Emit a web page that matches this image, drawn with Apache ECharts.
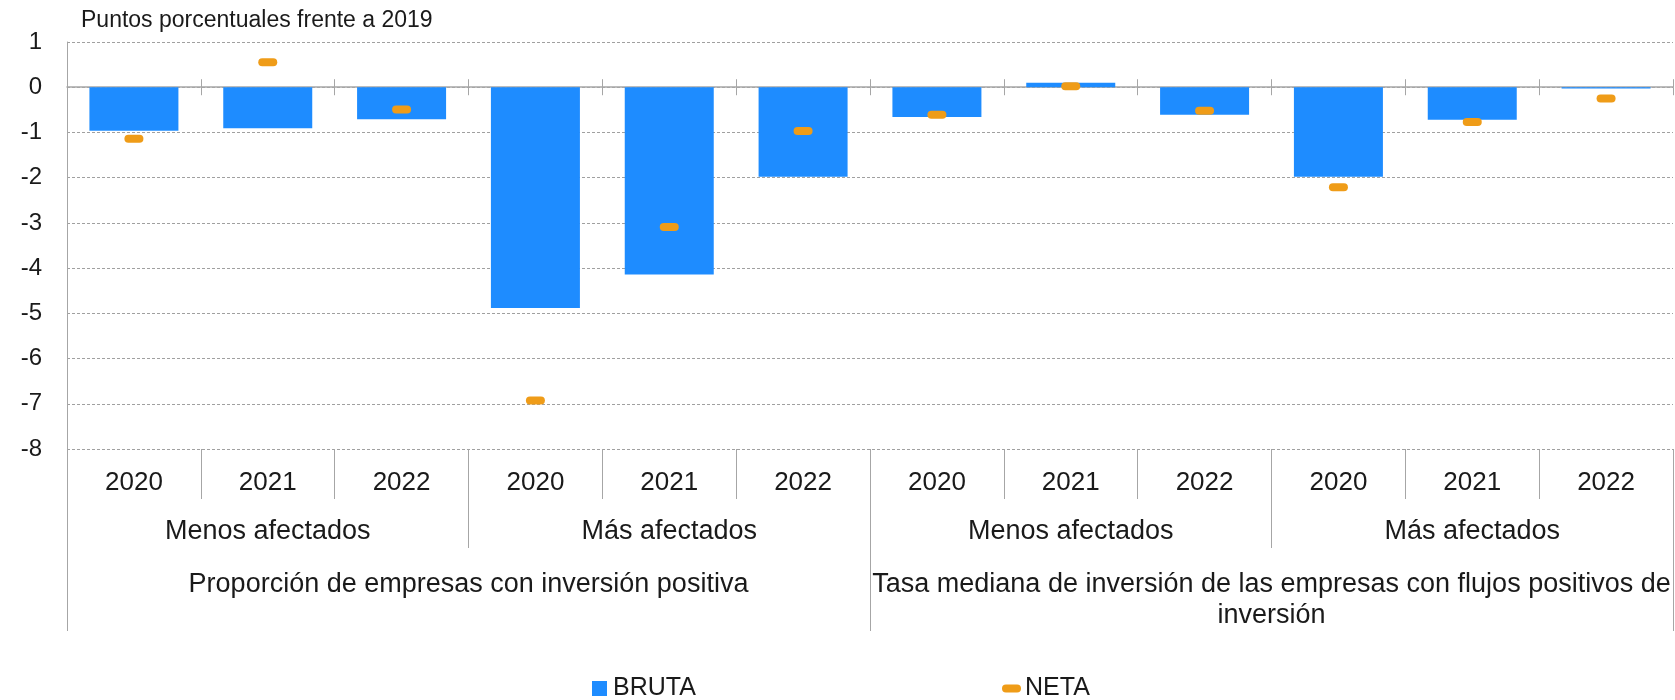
<!DOCTYPE html>
<html>
<head>
<meta charset="utf-8">
<script src="https://cdn.jsdelivr.net/npm/echarts@6/dist/echarts.min.js"></script>
<style>
  html, body { margin: 0; padding: 0; background: #fff; }
  #chart { width: 1675px; height: 700px; }
</style>
</head>
<body>
<div id="chart"></div>
<script>
// values (percentage points vs 2019)
const years = ["2020", "2021", "2022", "2020", "2021", "2022", "2020", "2021", "2022", "2020", "2021", "2022"];
const groups = ["Menos afectados", "Más afectados", "Menos afectados", "Más afectados"];
const blocks = [
  "Proporción de empresas con inversión positiva",
  "Tasa mediana de inversión de las empresas con flujos positivos de\ninversión",
];
const bruta = [-0.96, -0.91, -0.71, -4.88, -4.14, -1.98, -0.66, 0.10, -0.61, -1.98, -0.72, -0.03];
const neta = [-1.14, 0.55, -0.49, -6.93, -3.09, -0.97, -0.61, 0.02, -0.52, -2.21, -0.77, -0.25];

const C = { bar: "#1e8cff", dash: "#ef9c18", axis: "#a6a6a6", grid: "#a0a0a0", text: "#1a1a1a" };
const FONT = "'Liberation Sans', Arial, sans-serif";
const PILL = "path://M4,0 H15 A4,4 0 0 1 15,8 H4 A4,4 0 0 1 4,0 Z";

const chart = echarts.init(document.getElementById("chart"));

// helper for the lower label rows (no line, only dividers + labels)
function rowAxis(data, tickLen, margin, fontSize, extra) {
  return Object.assign({
    type: "category", data, position: "bottom", gridIndex: 0,
    axisLine: { show: false, onZero: false },
    axisTick: { show: true, length: tickLen, interval: 0, lineStyle: { color: C.axis, width: 1 } },
    axisLabel: { interval: 0, margin, color: C.text, fontSize, fontFamily: FONT, verticalAlign: "middle" },
    splitLine: { show: false },
  }, extra || {});
}

chart.setOption({
  animation: false,
  backgroundColor: "#fff",
  textStyle: { fontFamily: FONT, color: C.text },
  title: {
    text: "Puntos porcentuales frente a 2019",
    left: 81, top: 9, padding: 0,
    textStyle: { fontSize: 23, fontWeight: "normal", color: C.text, fontFamily: FONT },
  },
  grid: { left: 67, right: 2, top: 42, bottom: 251, containLabel: false },
  legend: [
    { data: ["BRUTA"], left: 592, top: 676, padding: 0, itemWidth: 15, itemHeight: 15, itemGap: 0,
      icon: "rect", textStyle: { fontSize: 25, color: C.text, fontFamily: FONT, padding: [0, 0, 0, 1] } },
    { data: ["NETA"], left: 1002, top: 676, padding: 0, itemWidth: 19, itemHeight: 8, itemGap: 0,
      icon: PILL, textStyle: { fontSize: 25, color: C.text, fontFamily: FONT, padding: [0, 0, 0, -1] } },
  ],
  xAxis: [
    // 0: year row
    rowAxis(years, 50, 34, 26),
    // 1: affected group row
    rowAxis(groups, 99, 83, 27),
    // 2: block row
    rowAxis(blocks, 182, 120, 27, {
      axisLabel: { interval: 0, margin: 120, color: C.text, fontSize: 27, fontFamily: FONT,
        verticalAlign: "top", lineHeight: 31, align: "center" },
    }),
    // 3: zero line, ticks down
    { type: "category", data: years, position: "bottom",
      axisLine: { show: true, onZero: true, onZeroAxisIndex: 0, lineStyle: { color: C.axis, width: 1.5 } },
      axisTick: { show: true, length: 8, interval: 0, lineStyle: { color: C.axis } },
      axisLabel: { show: false }, splitLine: { show: false } },
    // 4: zero line, ticks up (sits on the hidden twin y axis)
    { type: "category", data: years, position: "top",
      axisLine: { show: false, onZero: true, onZeroAxisIndex: 1 },
      axisTick: { show: true, length: 8, interval: 0, lineStyle: { color: C.axis } },
      axisLabel: { show: false }, splitLine: { show: false } },
  ],
  yAxis: [
    { type: "value", min: -8, max: 1, interval: 1,
      axisLine: { show: true, lineStyle: { color: C.axis, width: 1 } },
      axisTick: { show: false },
      axisLabel: { fontSize: 24, color: C.text, margin: 25, fontFamily: FONT },
      splitLine: { show: true, lineStyle: { color: C.grid, width: 1, type: [3, 2] } } },
    { type: "value", min: -8, max: 1, interval: 1, position: "right",
      axisLine: { show: false }, axisTick: { show: false }, axisLabel: { show: false },
      splitLine: { show: false } },
  ],
  series: [
    { name: "BRUTA", type: "bar", xAxisIndex: 0, yAxisIndex: 0, data: bruta, barWidth: "66.5%",
      itemStyle: { color: C.bar } },
    { name: "NETA", type: "scatter", xAxisIndex: 0, yAxisIndex: 0, data: neta, symbol: PILL, symbolSize: [19, 8],
      itemStyle: { color: C.dash, opacity: 1 }, z: 5 },
  ],
});
</script>
</body>
</html>
